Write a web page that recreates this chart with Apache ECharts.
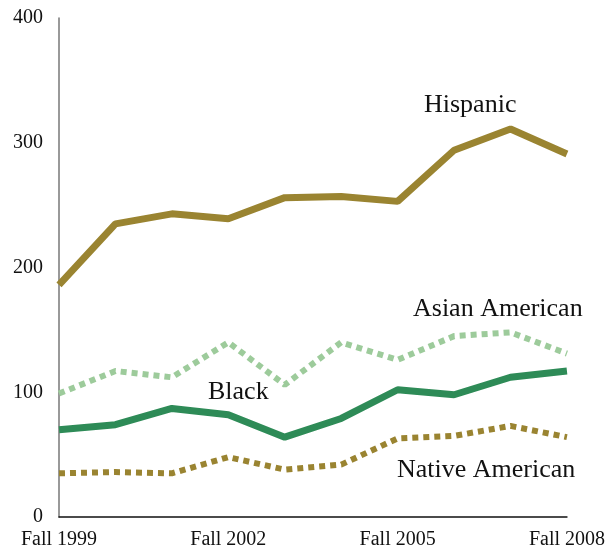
<!DOCTYPE html>
<html><head><meta charset="utf-8">
<script src="https://cdn.jsdelivr.net/npm/echarts@6/dist/echarts.min.js"></script>
<style>html,body{margin:0;padding:0;background:#fff}#c{width:608px;height:552px}</style>
</head><body><div id="c"></div>
<script>
const categories = ['Fall 1999','Fall 2000','Fall 2001','Fall 2002','Fall 2003','Fall 2004','Fall 2005','Fall 2006','Fall 2007','Fall 2008'];
const hispanic = [186, 235, 243, 239, 256, 257, 253, 294, 311, 291];
const asianAmerican = [99, 117, 112, 140, 106, 140, 126, 145, 148, 131];
const black = [70, 74, 87, 82, 64, 79, 102, 98, 112, 117];
const nativeAmerican = [35, 36, 35, 48, 38, 42, 63, 65, 73, 64];
const yTicks = [0, 100, 200, 300, 400];

const font = "'Liberation Serif', 'DejaVu Serif', serif";
const gold = '#9a8431';
const chart = echarts.init(document.getElementById('c'));
chart.setOption({
  animation: false,
  backgroundColor: '#fff',
  grid: { left: 59, right: 38, top: 18, bottom: 35, containLabel: false },
  xAxis: {
    type: 'category', data: categories, boundaryGap: false,
    axisLine: { lineStyle: { color: '#111', width: 1.5 } },
    axisTick: { show: false },
    axisLabel: { interval: 2, color: '#111', fontFamily: font, fontSize: 20, margin: 13 }
  },
  yAxis: {
    type: 'value', min: yTicks[0], max: yTicks[yTicks.length-1], interval: 100,
    axisLine: { show: true, lineStyle: { color: '#777', width: 1.5 } },
    axisTick: { show: false },
    splitLine: { show: false },
    axisLabel: { color: '#111', fontFamily: font, fontSize: 20, margin: 16 }
  },
  series: [
    { name: 'Hispanic', type: 'line', data: hispanic, symbol: 'none',
      lineStyle: { color: gold, width: 7 } },
    { name: 'Asian American', type: 'line', data: asianAmerican, symbol: 'none',
      lineStyle: { color: '#9dcb9b', width: 6, type: [6, 5], cap: 'butt' } },
    { name: 'Black', type: 'line', data: black, symbol: 'none',
      lineStyle: { color: '#2e8b57', width: 7 } },
    { name: 'Native American', type: 'line', data: nativeAmerican, symbol: 'none',
      lineStyle: { color: gold, width: 6, type: [6, 5], cap: 'butt' } }
  ],
  graphic: [
    { type: 'text', left: 424, top: 92, style: { text: 'Hispanic', font: '26px ' + font, fill: '#111' } },
    { type: 'text', left: 413, top: 296, style: { text: 'Asian American', font: '26px ' + font, fill: '#111' } },
    { type: 'text', left: 208, top: 379, style: { text: 'Black', font: '26px ' + font, fill: '#111' } },
    { type: 'text', left: 397, top: 457, style: { text: 'Native American', font: '26px ' + font, fill: '#111' } }
  ]
});
</script></body></html>
